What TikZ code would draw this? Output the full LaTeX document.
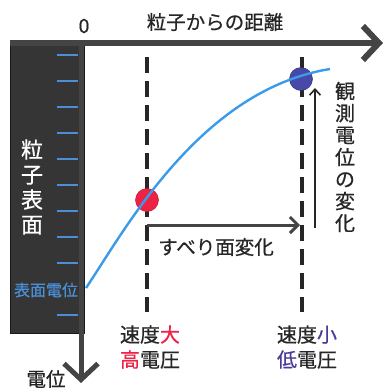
\documentclass[tikz,border=0pt]{standalone}
\usepackage{fontspec}
\newfontfamily\jp[FakeBold=0.6]{Noto Sans CJK JP}
\usetikzlibrary{arrows.meta}
\definecolor{boxgray}{HTML}{353535}
\definecolor{axisgray}{HTML}{444444}
\definecolor{tickblue}{HTML}{4A8FD6}
\definecolor{curveblue}{HTML}{3A9BEA}
\definecolor{redc}{HTML}{EE2244}
\definecolor{bluec}{HTML}{4848A8}
\definecolor{purp}{HTML}{4A3A9A}
\tikzset{
  lbl/.style={font=\jp\fontsize{19.5}{19.5}\selectfont, inner sep=0pt, text=black!85},
  dashline/.style={line width=4pt, dash pattern=on 16pt off 8pt, black!85},
  tickln/.style={tickblue, line width=1.6pt},
  bigarrow/.style={axisgray, line width=6pt, -{Straight Barb[length=16pt,width=34pt]}},
}
\begin{document}
\begin{tikzpicture}[x=1pt,y=-1pt]
\useasboundingbox (0,0) rectangle (386,392);
% surface box
\fill[boxgray] (10,40) rectangle (84,333);
\draw[black!90,line width=1pt] (10,40) rectangle (84,333);
% axes
\coordinate (o) at (81,43);
\coordinate (xend) at (383,43);
\coordinate (yend) at (81,383);
\draw[bigarrow] (10,43) -- (xend);
\draw[bigarrow, line width=5pt] (o) -- (yend);
\node[lbl] (zero) at (84,26) {0};
\node[lbl] (xlab) at (215,22) {粒子からの距離};
\node[lbl] (ylab) at (46,379) {電位};
% ticks
\foreach \y in {55,81,107,133,159,185,211,237,263,315}
  \draw[tickln] (57,\y) -- (78,\y);
\node[lbl,text=white,font=\jp\fontsize{22}{25}\selectfont,align=center] (surf) at (32,187) {粒\\子\\表\\面};
\node[lbl,text=tickblue,font=\jp\fontsize{16}{16}\selectfont] (sp) at (46,290) {表面電位};
% dashed lines
\coordinate (d1t) at (147,57); \coordinate (d1b) at (147,312);
\coordinate (d2t) at (302,57); \coordinate (d2b) at (302,312);
\draw[dashline] (d1t) -- (d1b);
\draw[dashline] (d2t) -- (d2b);
% circles
\node[circle, fill=redc, draw=redc!80!black, line width=0.5pt, minimum size=23pt, inner sep=0pt] (rc) at (147,200) {};
\node[circle, fill=bluec, draw=bluec!70!black, line width=0.5pt, minimum size=23pt, inner sep=0pt] (bc) at (301,79) {};
% curve
\coordinate (c0) at (86,288);
\coordinate (c1) at (330,69);
\draw[curveblue, line width=2.4pt] (c0) .. controls (125,230) and (200,90) .. (c1);
% slip plane arrow
\coordinate (s0) at (147,225);
\coordinate (s1) at (300,225);
\draw[axisgray, line width=3pt, -{Straight Barb[length=8pt,width=16pt]}] (s0) -- (s1);
\node[lbl] (slip) at (216,247) {すべり面変化};
% observed potential arrow
\coordinate (v0) at (315,228);
\coordinate (v1) at (315,88);
\draw[black!85, line width=1.6pt, -{Straight Barb[length=6pt,width=11pt]}] (v0) -- (v1);
\node[lbl,font=\jp\fontsize{20}{22}\selectfont,align=center] (obs) at (345,157) {観\\測\\電\\位\\の\\変\\化};
% bottom labels
\node[lbl,align=left,font=\jp\fontsize{20}{25}\selectfont] (fast) at (150,347) {速度\textcolor{redc}{大}\\\textcolor{redc}{高}電圧};
\node[lbl,align=left,font=\jp\fontsize{20}{25}\selectfont] (slow) at (307,347) {速度\textcolor{purp}{小}\\\textcolor{purp}{低}電圧};
\end{tikzpicture}
\end{document}
